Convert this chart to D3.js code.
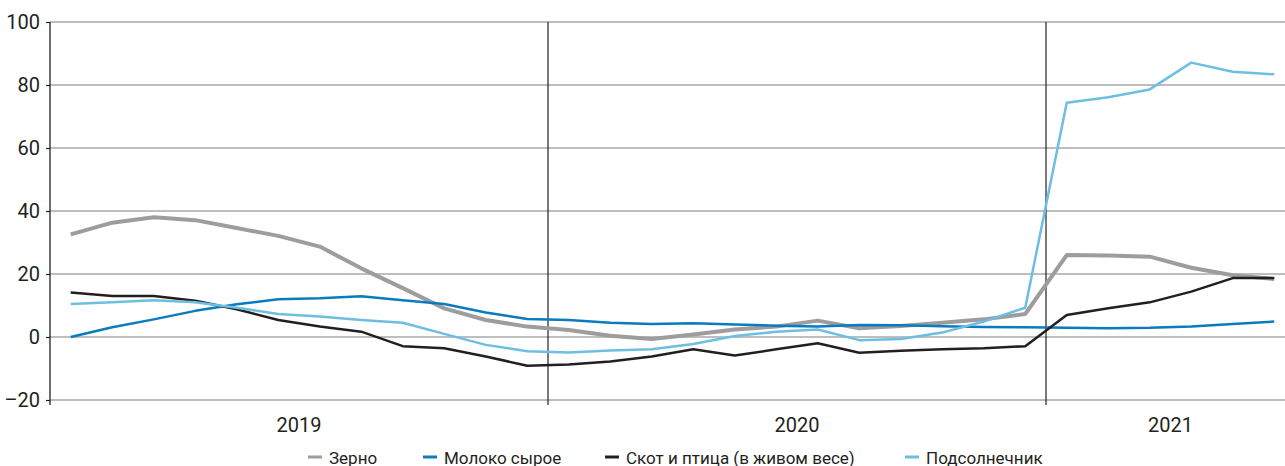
<!DOCTYPE html>
<html>
<head>
<meta charset="utf-8">
<script src="https://cdn.jsdelivr.net/npm/d3@7"></script>
<style>
  html, body { margin: 0; padding: 0; background: #fff; }
  svg { display: block; }
  .axis-label { font-family: "Liberation Sans Narrow", "Roboto", sans-serif; font-size: 20px; fill: #231f20; }
  .legend-label { font-family: "Roboto", sans-serif; font-size: 17px; fill: #231f20; }
</style>
</head>
<body>
<svg id="chart" width="1285" height="466"></svg>
<script>
// ---- Data ----
const months = [
  "2019-01","2019-02","2019-03","2019-04","2019-05","2019-06","2019-07","2019-08","2019-09","2019-10","2019-11","2019-12",
  "2020-01","2020-02","2020-03","2020-04","2020-05","2020-06","2020-07","2020-08","2020-09","2020-10","2020-11","2020-12",
  "2021-01","2021-02","2021-03","2021-04","2021-05","2021-06"
];
const years = ["2019", "2020", "2021"];
const yTicks = [-20, 0, 20, 40, 60, 80, 100];

const seriesNames = ["Зерно", "Молоко сырое", "Скот и птица (в живом весе)", "Подсолнечник"];

const grain = [32.6, 36.3, 38.0, 37.1, 34.6, 32.1, 28.7, 21.8, 15.5, 9.1, 5.4, 3.3,
               2.2, 0.4, -0.6, 0.8, 2.4, 3.3, 5.2, 2.8, 3.5, 4.5, 5.6, 7.3,
               26.0, 25.9, 25.5, 22.0, 19.6, 18.4];
const milk = [0.0, 3.1, 5.6, 8.3, 10.4, 12.0, 12.3, 12.9, 11.7, 10.5, 7.8, 5.7,
              5.4, 4.5, 4.1, 4.4, 4.0, 3.6, 3.3, 3.8, 3.7, 3.4, 3.2, 3.1,
              2.9, 2.8, 2.9, 3.3, 4.1, 4.9];
const livestock = [14.1, 13.0, 13.0, 11.5, 8.8, 5.4, 3.3, 1.7, -2.9, -3.6, -6.2, -9.1,
                   -8.7, -7.8, -6.2, -3.9, -5.9, -3.9, -2.0, -5.0, -4.4, -3.9, -3.6, -2.9,
                   7.0, 9.1, 11.0, 14.4, 18.7, 18.7];
const sunflower = [10.5, 11.0, 11.7, 11.0, 9.3, 7.3, 6.5, 5.4, 4.5, 1.0, -2.5, -4.5,
                   -4.9, -4.3, -3.9, -2.2, 0.3, 1.7, 2.4, -1.0, -0.6, 1.4, 4.9, 9.3,
                   74.4, 76.1, 78.6, 87.1, 84.2, 83.4];

const colors = ["#9d9d9f", "#0a7bbf", "#231f20", "#6cbfe0"];
const widths = [4, 2.5, 2.5, 2.5];

// ---- Layout ----
const svg = d3.select("#chart");
const left = 50, monthW = 41.5;
const x = d3.scaleBand().domain(months).range([left, left + monthW * months.length]).padding(0);
const y = d3.scaleLinear().domain([-20, 100]).range([400, 22]);
const cx = m => x(m) + x.bandwidth() / 2;

// gridlines
svg.append("g").selectAll("line").data(yTicks).join("line")
  .attr("x1", left).attr("x2", 1285)
  .attr("y1", d => y(d)).attr("y2", d => y(d))
  .attr("stroke", "#7f7f7f").attr("stroke-width", 1.2);

// y axis
const yAxis = d3.axisLeft(y).tickValues(yTicks).tickSize(4).tickPadding(6)
  .tickFormat(d => d < 0 ? "\u2013" + Math.abs(d) : d);
const gy = svg.append("g").attr("transform", `translate(${left},0)`).call(yAxis);
gy.select(".domain").remove();
gy.selectAll(".tick line").attr("stroke", "#231f20").attr("stroke-width", 1.2);
gy.selectAll(".tick text").attr("class", "axis-label").attr("fill", "#231f20");
svg.append("line").attr("x1", left).attr("x2", left).attr("y1", y(100)).attr("y2", 405)
  .attr("stroke", "#231f20").attr("stroke-width", 1.3);

// year separators
const yearStarts = years.slice(1).map(yr => months.find(m => m.startsWith(yr)));
svg.append("g").selectAll("line").data(yearStarts).join("line")
  .attr("x1", d => x(d)).attr("x2", d => x(d))
  .attr("y1", y(100)).attr("y2", 405)
  .attr("stroke", "#231f20").attr("stroke-width", 1.2);

// year labels
svg.append("g").selectAll("text").data(years).join("text")
  .attr("class", "axis-label")
  .attr("x", yr => {
    const ms = months.filter(m => m.startsWith(yr));
    return (x(ms[0]) + x(ms[ms.length - 1]) + x.bandwidth()) / 2;
  })
  .attr("y", 432)
  .attr("text-anchor", "middle")
  .text(d => d);

// lines
const allSeries = [grain, milk, livestock, sunflower];
const line = d3.line().x((d, i) => cx(months[i])).y(d => y(d));
const order = [0, 1, 2, 3];
svg.append("g").selectAll("path").data(order).join("path")
  .attr("d", i => line(allSeries[i]))
  .attr("fill", "none")
  .attr("stroke", i => colors[i])
  .attr("stroke-width", i => widths[i])
  .attr("stroke-linejoin", "round");

// legend
const legendX = [308, 423, 605, 905];
const lg = svg.append("g").selectAll("g").data(seriesNames).join("g")
  .attr("transform", (d, i) => `translate(${legendX[i]},457)`);
lg.append("line").attr("x1", 0).attr("x2", 14).attr("y1", 0).attr("y2", 0)
  .attr("stroke", (d, i) => colors[i]).attr("stroke-width", 3);
lg.append("text").attr("class", "legend-label").attr("x", 21).attr("y", 6.5).text(d => d);
</script>
</body>
</html>
